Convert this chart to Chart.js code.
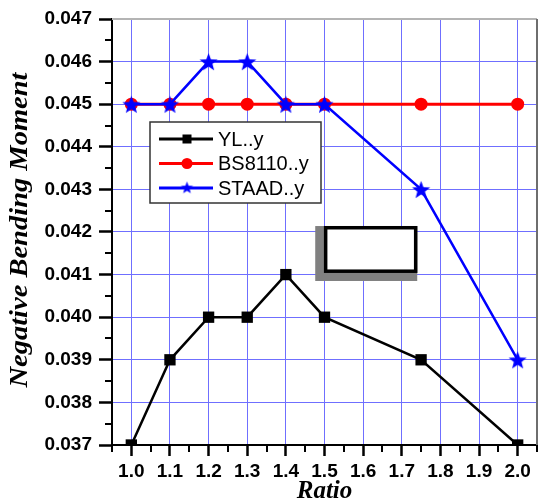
<!DOCTYPE html>
<html>
<head>
<meta charset="utf-8">
<script src="https://cdn.jsdelivr.net/npm/chart.js@4.4.1/dist/chart.umd.min.js"></script>
<style>
  html, body { margin: 0; padding: 0; background: #fff; }
  #wrap { width: 545px; height: 502px; }
</style>
</head>
<body>
<div id="wrap"><canvas id="c" width="545" height="502"></canvas></div>
<script>
// ---- data ----
const ratios      = [1.0, 1.1, 1.2, 1.3, 1.4, 1.5, 1.75, 2.0];
const ylValues    = [0.037, 0.039, 0.040, 0.040, 0.041, 0.040, 0.039, 0.037];
const bsValues    = [0.045, 0.045, 0.045, 0.045, 0.045, 0.045, 0.045, 0.045];
const staadValues = [0.045, 0.045, 0.046, 0.046, 0.045, 0.045, 0.043, 0.039];
const seriesNames = ['YL..y', 'BS8110..y', 'STAAD..y'];
const xTicks = [1.0, 1.1, 1.2, 1.3, 1.4, 1.5, 1.6, 1.7, 1.8, 1.9, 2.0];
const yTicks = [0.037, 0.038, 0.039, 0.040, 0.041, 0.042, 0.043, 0.044, 0.045, 0.046, 0.047];
const xTitle = 'Ratio';
const yTitle = 'Negative Bending Moment';

function starImage(outer, inner, color) {
  const s = Math.ceil(outer * 2 + 2);
  const cv = document.createElement('canvas');
  cv.width = s; cv.height = s;
  const g = cv.getContext('2d');
  g.fillStyle = color;
  g.beginPath();
  for (let i = 0; i < 10; i++) {
    const r = i % 2 === 0 ? outer : inner;
    const a = -Math.PI / 2 + i * Math.PI / 5;
    const px = s / 2 + r * Math.cos(a), py = s / 2 + 1 + r * Math.sin(a);
    i === 0 ? g.moveTo(px, py) : g.lineTo(px, py);
  }
  g.closePath();
  g.fill();
  return cv;
}
const bigStar = starImage(9.5, 4, '#0000ff');
const smallStar = starImage(6.5, 2.7, '#0000ff');

const pts = vals => ratios.map((r, i) => ({ x: r, y: vals[i] }));

const extrasPlugin = {
  id: 'extras',
  afterDraw(chart) {
    const ctx = chart.ctx;
    const a = chart.chartArea;
    const xs = chart.scales.x, ys = chart.scales.y;
    ctx.save();
    // frame top / right
    ctx.strokeStyle = '#b4b4b4'; ctx.lineWidth = 2;
    ctx.beginPath(); ctx.moveTo(a.left, a.top); ctx.lineTo(a.right, a.top); ctx.stroke();
    ctx.strokeStyle = '#6e6e6e';
    ctx.beginPath(); ctx.moveTo(a.right, a.top); ctx.lineTo(a.right, a.bottom); ctx.stroke();
    // minor ticks
    ctx.strokeStyle = '#000'; ctx.lineWidth = 2;
    for (let i = 0; i < yTicks.length - 1; i++) {
      const v = (yTicks[i] + yTicks[i + 1]) / 2;
      const py = Math.round(ys.getPixelForValue(v));
      ctx.beginPath(); ctx.moveTo(a.left - 7, py); ctx.lineTo(a.left, py); ctx.stroke();
    }
    const xm = [xs.min].concat(xTicks.map(v => v + 0.05));
    xm.forEach(v => {
      const px = Math.round(xs.getPixelForValue(v));
      ctx.beginPath(); ctx.moveTo(px, a.bottom); ctx.lineTo(px, a.bottom + 7); ctx.stroke();
    });
    // rectangle symbol (placed in data space)
    const gx0 = xs.getPixelForValue(1.476), gx1 = xs.getPixelForValue(1.740);
    const gy0 = ys.getPixelForValue(0.04214), gy1 = ys.getPixelForValue(0.04085);
    ctx.fillStyle = '#808080';
    ctx.fillRect(gx0, gy0, gx1 - gx0, gy1 - gy0);
    const bx0 = xs.getPixelForValue(1.503), bx1 = xs.getPixelForValue(1.736);
    const by0 = ys.getPixelForValue(0.04210), by1 = ys.getPixelForValue(0.04108);
    ctx.fillStyle = '#fff';
    ctx.fillRect(bx0, by0, bx1 - bx0, by1 - by0);
    ctx.strokeStyle = '#000'; ctx.lineWidth = 3.5;
    ctx.strokeRect(bx0, by0, bx1 - bx0, by1 - by0);

    // legend
    const lx = a.left + 38, ly = a.top + 103, lw = 171, lh = 81;
    ctx.fillStyle = '#fff';
    ctx.fillRect(lx, ly, lw, lh);
    ctx.strokeStyle = '#333'; ctx.lineWidth = 1.5;
    ctx.strokeRect(lx, ly, lw, lh);
    const ds = chart.data.datasets;
    [0, 1, 2].forEach((di, k) => {
      const d = ds[di];
      const cy = ly + 17 + k * 24.5;
      ctx.strokeStyle = d.borderColor; ctx.lineWidth = 3;
      ctx.beginPath(); ctx.moveTo(lx + 9, cy); ctx.lineTo(lx + 63, cy); ctx.stroke();
      const mx = lx + 37;
      ctx.fillStyle = d.borderColor;
      if (di === 0) { ctx.fillRect(mx - 4.5, cy - 4.5, 9, 9); }
      else if (di === 1) { ctx.beginPath(); ctx.arc(mx, cy, 5.5, 0, Math.PI * 2); ctx.fill(); }
      else { ctx.drawImage(smallStar, mx - smallStar.width / 2, cy - smallStar.height / 2 - 1); }
      ctx.fillStyle = '#000';
      ctx.font = '20px "Liberation Sans", Arial, sans-serif';
      ctx.textBaseline = 'middle'; ctx.textAlign = 'left';
      ctx.fillText(d.label, lx + 68, cy + 1);
    });

    // axis titles
    ctx.fillStyle = '#000';
    ctx.font = 'italic bold 25px "Liberation Serif", "Times New Roman", serif';
    ctx.textAlign = 'center'; ctx.textBaseline = 'middle';
    ctx.fillText(xTitle, (a.left + a.right) / 2, 492);
    ctx.save();
    ctx.translate(21, (a.top + a.bottom) / 2 - 2);
    ctx.rotate(-Math.PI / 2);
    ctx.scale(1.14, 1);
    ctx.fillText(yTitle, 0, 0);
    ctx.restore();
    ctx.restore();
  }
};

new Chart(document.getElementById('c'), {
  type: 'line',
  data: {
    datasets: [
      { label: seriesNames[0], data: pts(ylValues), borderColor: '#000000', backgroundColor: '#000000',
        borderWidth: 2.5, pointStyle: 'rect', pointRadius: 8, pointBorderWidth: 0, order: 2, tension: 0 },
      { label: seriesNames[1], data: pts(bsValues), borderColor: '#ff0000', backgroundColor: '#ff0000',
        borderWidth: 3, pointStyle: 'circle', pointRadius: 6.5, pointBorderWidth: 0, order: 1, tension: 0 },
      { label: seriesNames[2], data: pts(staadValues), borderColor: '#0000ff', backgroundColor: '#0000ff',
        borderWidth: 2.5, pointStyle: bigStar, order: 0, tension: 0 }
    ]
  },
  options: {
    responsive: false,
    animation: false,
    devicePixelRatio: 1,
    layout: { padding: { top: 19, right: 5, left: 0, bottom: 0 } },
    plugins: { legend: { display: false }, tooltip: { enabled: false } },
    scales: {
      x: {
        type: 'linear', min: 0.95, max: 2.05,
        afterBuildTicks: s => { s.ticks = xTicks.map(v => ({ value: v })); },
        afterFit: s => { s.height = 57; },
        grid: { color: '#6f6fff', lineWidth: 1, tickColor: '#000', tickLength: 11, tickWidth: 2.5 },
        border: { color: '#000', width: 2 },
        ticks: { color: '#000', padding: 4, font: { family: '"Liberation Sans", Arial', size: 19, weight: 'bold' },
                 callback: v => v.toFixed(1), maxRotation: 0, autoSkip: false }
      },
      y: {
        type: 'linear', min: 0.037, max: 0.047,
        afterBuildTicks: s => { s.ticks = yTicks.map(v => ({ value: v })); },
        afterFit: s => { s.width = 112; },
        grid: { color: '#6f6fff', lineWidth: 1, tickColor: '#000', tickLength: 13, tickWidth: 2.5 },
        border: { color: '#000', width: 2 },
        ticks: { color: '#000', padding: 7, font: { family: '"Liberation Sans", Arial', size: 19, weight: 'bold' },
                 callback: v => v.toFixed(3), autoSkip: false }
      }
    }
  },
  plugins: [extrasPlugin]
});
</script>
</body>
</html>
